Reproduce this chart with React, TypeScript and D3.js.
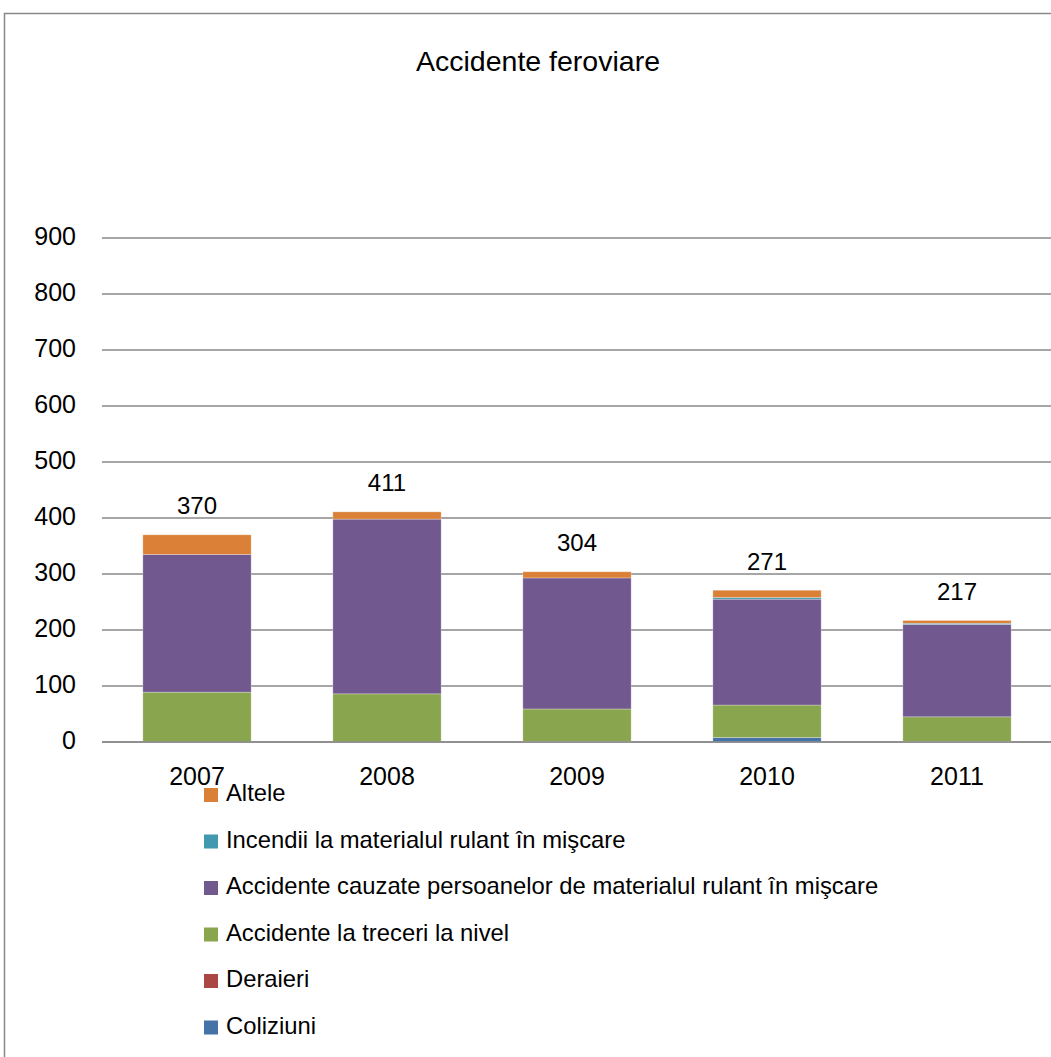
import React from "react";
import * as d3 from "d3";

const years = ["2007", "2008", "2009", "2010", "2011"];
const coliziuni = [0, 0, 0, 8, 0];
const deraieri = [0, 0, 1, 0, 1];
const treceri = [89, 86, 58, 58, 44];
const persoane = [246, 312, 234, 189, 165];
const incendii = [0, 0, 0, 3, 2];
const altele = [35, 13, 11, 13, 5];
const totals = [370, 411, 304, 271, 217];
const yTicks = [0, 100, 200, 300, 400, 500, 600, 700, 800, 900];

const seriesNames = [
  "Coliziuni",
  "Deraieri",
  "Accidente la treceri la nivel",
  "Accidente cauzate persoanelor de materialul rulant în mişcare",
  "Incendii la materialul rulant în mişcare",
  "Altele",
];
const seriesValues = [coliziuni, deraieri, treceri, persoane, incendii, altele];
const colors = ["#4572A7", "#AA4643", "#89A54E", "#71588F", "#4198AF", "#DA8137"];

const W = 1051;
const H = 1057;
const FONT = "'Liberation Sans', Arial, sans-serif";

export default function App() {
  const x = d3.scaleBand().domain(years).range([102, 1052]).paddingInner(0.43).paddingOuter(0.215);
  const y = d3.scaleLinear().domain([0, 900]).range([742, 238]);

  const table = years.map((yr, i) => {
    const row: any = { year: yr };
    seriesNames.forEach((n, k) => (row[n] = seriesValues[k][i]));
    return row;
  });
  const stacked = d3.stack().keys(seriesNames)(table);

  const legendOrder = [5, 4, 3, 2, 1, 0];

  return (
    <svg width={W} height={H} style={{ position: "absolute", left: 0, top: 0, background: "#fff" }} fontFamily={FONT}>
      <rect x={0} y={0} width={W} height={H} fill="#fff" />
      <rect x={4.5} y={13.5} width={1100} height={1100} fill="none" stroke="#888" strokeWidth={1.5} />
      <text x={538} y={63} textAnchor="middle" dominantBaseline="middle" fontSize={28.5} fill="#000">
        Accidente feroviare
      </text>
      {yTicks.map((t) => (
        <g key={t}>
          <line x1={102} x2={1051} y1={y(t)} y2={y(t)} stroke="#888" strokeWidth={1.5} />
          <text x={76} y={y(t)} textAnchor="end" dominantBaseline="middle" fontSize={25} fill="#000">
            {t}
          </text>
        </g>
      ))}
      {stacked.map((layer, k) => (
        <g key={layer.key} fill={colors[k]}>
          {layer.map((d, i) => {
            const h = y(d[0]) - y(d[1]);
            if (h <= 0) return null;
            return (
              <rect key={i} x={x(years[i])} y={y(d[1])} width={x.bandwidth()} height={h} stroke="#fff" strokeOpacity={0.35} strokeWidth={0.8} />
            );
          })}
        </g>
      ))}
      <line x1={102} x2={1051} y1={y(0)} y2={y(0)} stroke="#888" strokeWidth={1.5} />
      {years.map((yr, i) => (
        <g key={yr}>
          <text x={(x(yr) as number) + x.bandwidth() / 2} y={778} textAnchor="middle" dominantBaseline="middle" fontSize={25} fill="#000">
            {yr}
          </text>
          <text x={(x(yr) as number) + x.bandwidth() / 2} y={y(totals[i]) - 27} textAnchor="middle" dominantBaseline="middle" fontSize={24} fill="#000">
            {totals[i]}
          </text>
        </g>
      ))}
      {legendOrder.map((k, j) => {
        const ly = 795 + j * 46.5;
        return (
          <g key={k}>
            <rect x={204} y={ly - 7} width={14} height={14} fill={colors[k]} />
            <text x={226} y={ly} dominantBaseline="middle" fontSize={23.8} fill="#000">
              {seriesNames[k]}
            </text>
          </g>
        );
      })}
    </svg>
  );
}
